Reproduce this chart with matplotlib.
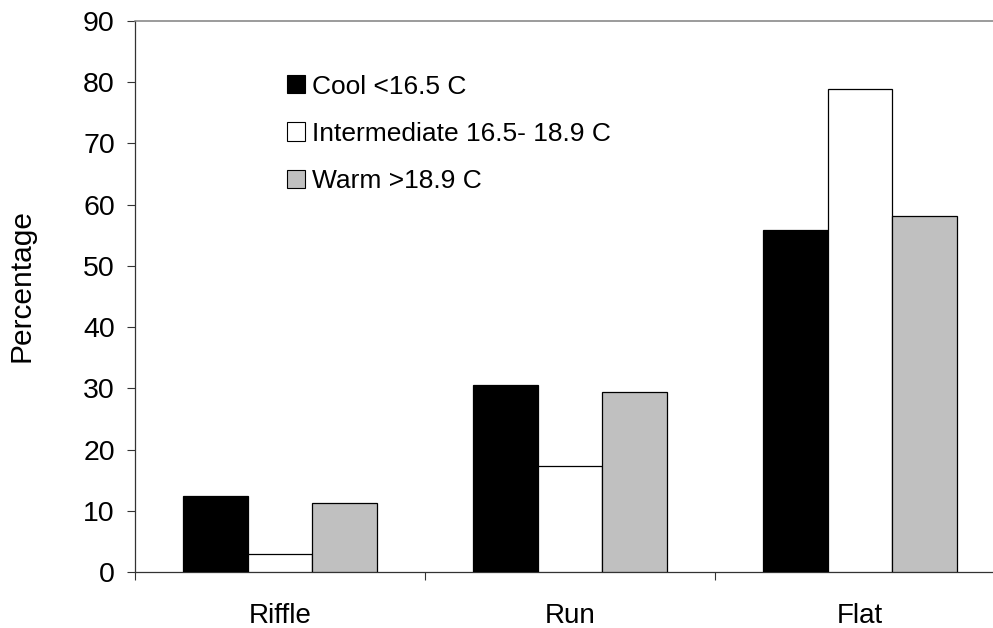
import numpy as np
import matplotlib
matplotlib.use('Agg')
import matplotlib.pyplot as plt
from matplotlib.patches import Patch

plt.rcParams['font.family'] = ['Liberation Sans', 'DejaVu Sans']

# habitat types and % of sites by temperature class
habitats = ['Riffle', 'Run', 'Flat']
cool = [12.4, 30.5, 55.9]
intermediate = [3.0, 17.4, 78.9]
warm = [11.4, 29.5, 58.1]

series_names = ['Cool <16.5 C', 'Intermediate 16.5- 18.9 C', 'Warm >18.9 C']
series_colors = ['#000000', '#ffffff', '#c0c0c0']

fig = plt.figure(figsize=(9.93, 6.28), dpi=100)
ax = fig.add_axes([135 / 993, 1 - 572.4 / 628, 870 / 993, 551.7 / 628])

x = np.arange(len(habitats))
w = 0.224
for i, (vals, col) in enumerate(zip([cool, intermediate, warm], series_colors)):
    ax.bar(x + (i - 1) * w, vals, width=w, color=col, edgecolor='black', linewidth=0.9, zorder=3)

ax.set_xlim(-0.5, 2.5)
ax.set_ylim(0, 90)
ax.set_yticks(range(0, 91, 10))
ax.set_xticks(x)
ax.set_xticklabels(habitats)
ax.set_xticks([-0.5, 0.5, 1.5, 2.5], minor=True)
ax.tick_params(axis='x', which='major', length=0, pad=22, labelsize=20)
ax.tick_params(axis='x', which='minor', length=6, width=0.8, direction='out', color='#333333')
ax.tick_params(axis='y', length=6, width=0.8, pad=8.5, labelsize=20.5, color='#333333')

ax.spines['right'].set_visible(False)
ax.spines['top'].set_color('#808080')
ax.spines['top'].set_linewidth(1.1)
for s in ['left', 'bottom']:
    ax.spines[s].set_color('#333333')
    ax.spines[s].set_linewidth(0.9)

ax.set_ylabel('Percentage', fontsize=21.5)
ax.yaxis.set_label_coords(-0.114, 0.52)

handles = [Patch(facecolor=c, edgecolor='black', linewidth=0.8) for c in series_colors]
ax.legend(handles, series_names, loc='upper left', frameon=False, fontsize=19,
          bbox_to_anchor=(287 / 993, 1 - 74.5 / 628), bbox_transform=fig.transFigure,
          borderpad=0, borderaxespad=0, handlelength=0.68, handleheight=0.68,
          handletextpad=0.26, labelspacing=0.88)

fig.savefig('out.png', dpi=100)
